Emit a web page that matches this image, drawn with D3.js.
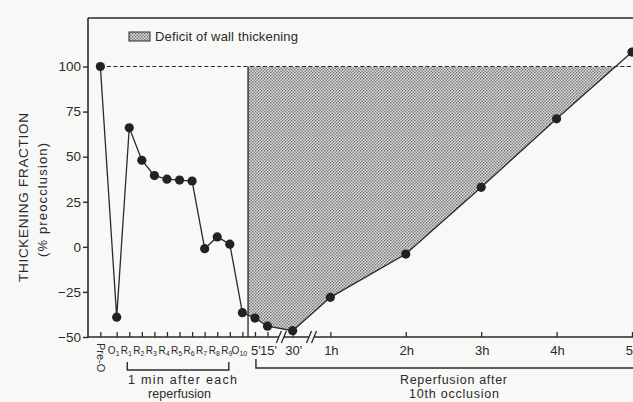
<!DOCTYPE html>
<html><head><meta charset="utf-8">
<script src="https://cdn.jsdelivr.net/npm/d3@7"></script>
<style>
body{margin:0;background:#f8f8f6;}
svg{display:block;font-family:"Liberation Sans",Arial,sans-serif;}
</style></head>
<body><svg id="c" width="633" height="402"></svg>
<script>
// ---- data ----
const xLabels = ["Pre-O","O|1","R|1","R|2","R|3","R|4","R|5","R|6","R|7","R|8","R|9","O|10","5'","15'","30'","1h","2h","3h","4h","5h"];
const xSlots  = [-1.3,0,1,2,3,4,5,6,7,8,9,10,11,12,14,17,23,29,35,41];
const thickening = [100,-39,66,48,39.5,37.5,37,36.5,-1,5.5,1.5,-36.5,-39.5,-44,-46.5,-28,-4,33,71,108];
const yTicks = [-50,-25,0,25,50,75,100];
const deficitStart = 10.45;   // boundary between O10 and 5'
const axisBreaks = [13.1,15.5];
const baseline = 100;

const svg = d3.select("#c");
const ink = "#2a2a2a";
const x = d3.scaleLinear().domain([0,41]).range([116.7,632]);
const y = d3.scaleLinear().domain([-50,100]).range([337,66.5]);

// pattern
const defs = svg.append("defs");
const pat = defs.append("pattern").attr("id","dots").attr("patternUnits","userSpaceOnUse")
  .attr("width",3).attr("height",3);
pat.append("rect").attr("width",3).attr("height",3).attr("fill","#dedede");
pat.append("rect").attr("x",0).attr("y",0).attr("width",1.4).attr("height",1.4).attr("fill","#707070");
pat.append("rect").attr("x",1.5).attr("y",1.5).attr("width",1.4).attr("height",1.4).attr("fill","#707070");
defs.append("clipPath").attr("id","below").append("rect")
  .attr("x",0).attr("y",y(baseline)).attr("width",633).attr("height",400);

const pts = xSlots.map((s,i)=>({s, v:thickening[i]}));

// deficit area
const iR = xSlots.findIndex(s=>s>deficitStart);
const p0 = pts[iR-1], p1 = pts[iR];
const vStart = p0.v + (p1.v-p0.v)*(deficitStart-p0.s)/(p1.s-p0.s);
const areaPts = [{s:deficitStart, v:vStart}].concat(pts.slice(iR));
svg.append("path").datum(areaPts)
  .attr("clip-path","url(#below)")
  .attr("fill","url(#dots)")
  .attr("d", d3.area().x(d=>x(d.s)).y0(y(baseline)).y1(d=>y(d.v)));

// top frame line
svg.append("line").attr("x1",88).attr("x2",633).attr("y1",18).attr("y2",18)
  .attr("stroke",ink).attr("stroke-width",1.6);

// dashed 100 line
svg.append("line").attr("x1",x(xSlots[0])).attr("x2",633).attr("y1",y(baseline)).attr("y2",y(baseline))
  .attr("stroke",ink).attr("stroke-width",1.2).attr("stroke-dasharray","4,2.5");

// vertical divider
svg.append("line").attr("x1",x(deficitStart)).attr("x2",x(deficitStart))
  .attr("y1",y(baseline)).attr("y2",y(-50)).attr("stroke",ink).attr("stroke-width",1.3);

// y axis
const ya = svg.append("g").attr("transform","translate(88,0)")
  .call(d3.axisLeft(y).tickValues(yTicks).tickSize(5).tickPadding(2).tickSizeOuter(0));
ya.select(".domain").remove();
ya.selectAll("line").attr("stroke",ink).attr("stroke-width",1.4);
ya.selectAll("text").attr("font-size",13.5).attr("fill",ink).attr("font-family","Liberation Sans, Arial, sans-serif");
svg.append("line").attr("x1",88).attr("x2",88).attr("y1",18).attr("y2",y(-50)+0.8)
  .attr("stroke",ink).attr("stroke-width",1.6);

// x axis
const xa = svg.append("g").attr("transform",`translate(0,${y(-50)})`)
  .call(d3.axisBottom(x).tickValues(xSlots).tickSizeInner(-5).tickSizeOuter(0).tickFormat(""));
xa.select(".domain").remove();
xa.selectAll("line").attr("stroke",ink).attr("stroke-width",1.3);
svg.append("line").attr("x1",88).attr("x2",633).attr("y1",y(-50)).attr("y2",y(-50))
  .attr("stroke",ink).attr("stroke-width",1.6);
// axis breaks
axisBreaks.forEach(b=>{
  const cx = x(b), cy = y(-50);
  svg.append("rect").attr("x",cx-2.5).attr("y",cy-2).attr("width",5).attr("height",4).attr("fill","#f8f8f6");
  [-2.5,2.5].forEach(o=>svg.append("line").attr("x1",cx+o-2.5).attr("x2",cx+o+2.5)
    .attr("y1",cy+6).attr("y2",cy-6).attr("stroke",ink).attr("stroke-width",1.3));
});

// x labels
xLabels.forEach((lab,i)=>{
  const px = x(xSlots[i]);
  if (lab==="Pre-O") {
    svg.append("text").attr("transform",`translate(${px+1},343) rotate(90)`)
      .attr("font-size",11).attr("fill",ink).attr("dominant-baseline","central").text(lab);
  } else if (lab.includes("|")) {
    const [a,b] = lab.split("|");
    const t = svg.append("text").attr("x",px-3).attr("y",354).attr("font-size",10).attr("fill",ink)
      .attr("text-anchor","middle");
    t.append("tspan").text(a);
    t.append("tspan").attr("font-size",7).attr("dy",2).text(b);
  } else {
    svg.append("text").attr("x",px+1).attr("y",355).attr("font-size",13).attr("fill",ink)
      .attr("text-anchor","middle").text(lab);
  }
});

// line + points
svg.append("path").datum(pts).attr("fill","none").attr("stroke",ink).attr("stroke-width",1.3)
  .attr("d", d3.line().x(d=>x(d.s)).y(d=>y(d.v)));
svg.selectAll("circle.pt").data(pts).join("circle").attr("class","pt")
  .attr("cx",d=>x(d.s)).attr("cy",d=>y(d.v)).attr("r",4.6).attr("fill","#222");

// brackets
function bracket(x1,x2,yy,h){
  svg.append("path").attr("fill","none").attr("stroke",ink).attr("stroke-width",1.4)
    .attr("d",`M${x1},${yy-h}V${yy}H${x2}V${yy-h}`);
}
function label(txt, x0, yy, w, size, attrs){
  const t = svg.append("text").attr("x",x0).attr("y",yy).attr("font-size",size).attr("fill",ink)
    .attr("textLength",w).attr("lengthAdjust","spacing").text(txt);
  if (attrs) Object.entries(attrs).forEach(([k,v])=>t.attr(k,v));
  return t;
}
bracket(x(1)-2, x(9)-1, 370, 8);
bracket(x(11)+1, 640, 368, 9);
label("1 min after each", 128, 384, 109, 12.5);
label("reperfusion", 148, 398, 63, 12.5);
label("Reperfusion after", 400, 384, 107, 12.5);
label("10th occlusion", 409, 398, 90, 12.5);

// y title
svg.append("text").attr("transform","translate(23,113) rotate(-90)").attr("text-anchor","end")
  .attr("dominant-baseline","central").attr("font-size",13.5).attr("fill",ink)
  .attr("textLength",169).attr("lengthAdjust","spacing").text("THICKENING FRACTION");
svg.append("text").attr("transform","translate(42,143) rotate(-90)").attr("text-anchor","end")
  .attr("dominant-baseline","central").attr("font-size",13).attr("fill",ink)
  .attr("textLength",114).attr("lengthAdjust","spacing").text("(% preocclusion)");

// legend
svg.append("rect").attr("x",129).attr("y",32).attr("width",21).attr("height",9)
  .attr("fill","url(#dots)").attr("stroke",ink).attr("stroke-width",1);
label("Deficit of wall thickening", 155, 41, 143, 13);
</script></body></html>
